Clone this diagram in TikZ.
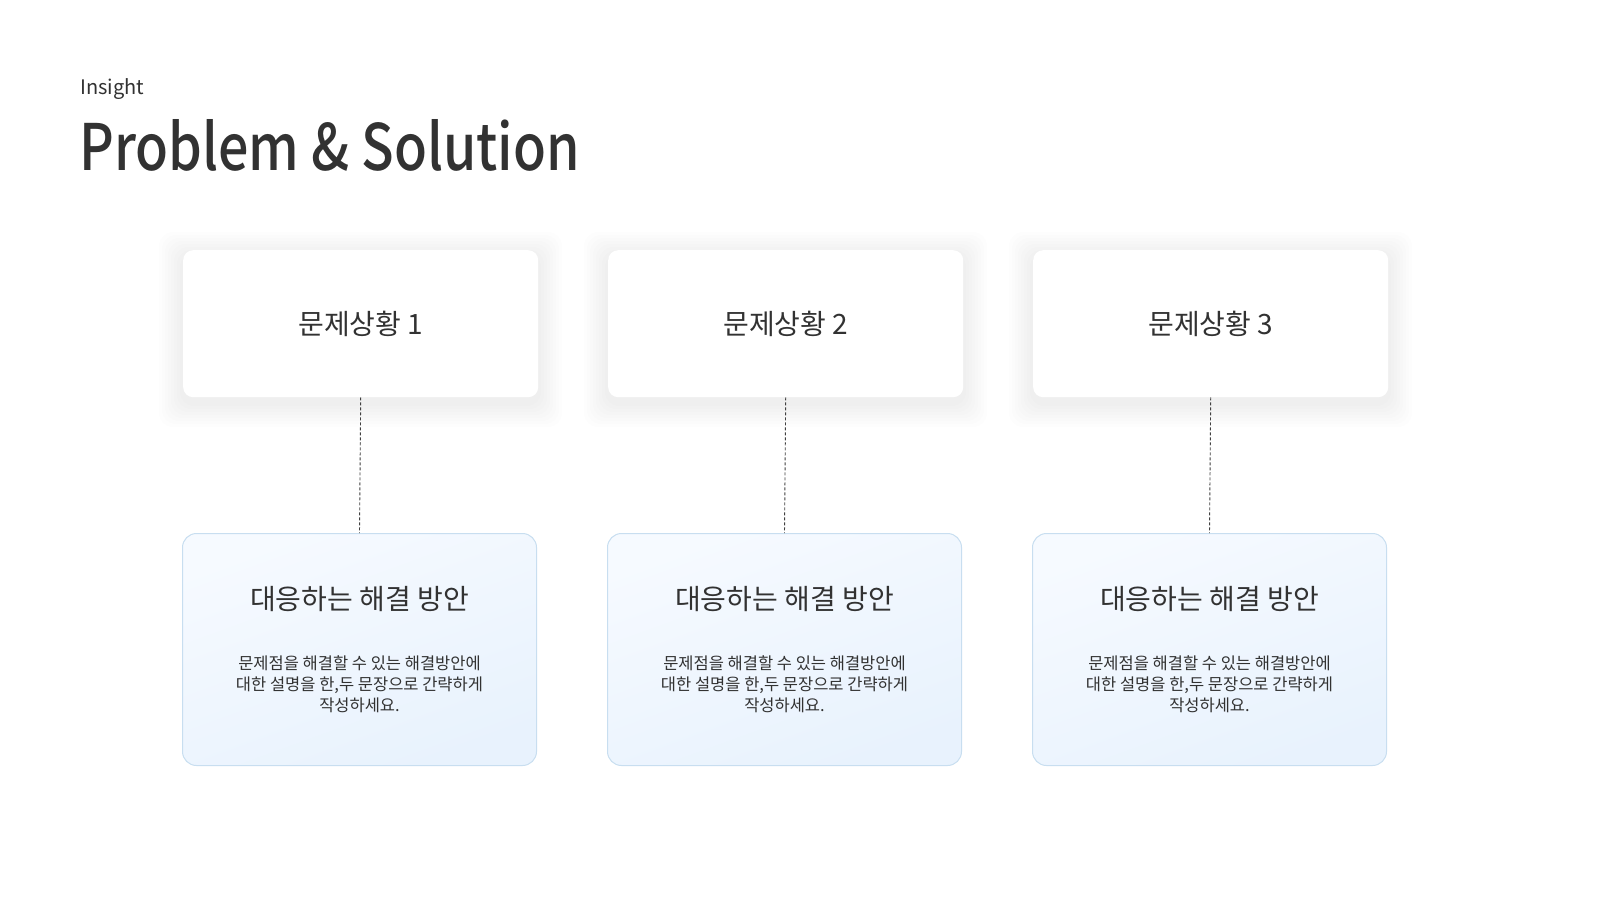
\documentclass[tikz,border=0pt]{standalone}
\usepackage{fontspec}
\setmainfont{Noto Sans CJK KR}
\newfontfamily\titlefont{Noto Sans CJK KR Medium}
\definecolor{bgtop}{RGB}{246,250,255}
\definecolor{bgbot}{RGB}{232,242,253}
\definecolor{bline}{RGB}{200,222,240}
\definecolor{txt}{RGB}{50,50,50}
\begin{document}
\begin{tikzpicture}[x=1pt,y=-1pt,
  top/.style={rounded corners=10pt,fill=white},
  bot/.style={rounded corners=14pt,draw=bline,line width=1pt,top color=bgtop,bottom color=bgbot,shading angle=20},
  conn/.style={densely dashed,line width=0.9pt,black!75}]
\useasboundingbox (0,0) rectangle (1600,900);
\fill[white] (0,0) rectangle (1600,900);
\node[anchor=base west,inner sep=0,font=\fontsize{20}{24}\selectfont,text=txt] (ins) at (80,94) {Insight};
\node[anchor=base west,inner sep=0,font=\titlefont\fontsize{64}{70}\selectfont,text=txt] (ttl) at (79,170) {\scalebox{0.84}[1]{Problem \& Solution}};
\foreach \x/\n in {183/1,608/2,1033/3}{
  \foreach \k in {1,...,8}{
    \fill[black,opacity=0.006,rounded corners=14pt] (\x-3*\k,250-3*\k+6) rectangle (\x+355+3*\k,397+3*\k+6);
  }
  \node[top,minimum width=355pt,minimum height=147pt,anchor=north west] (p\n) at (\x,250) {};
  \node[font=\fontsize{28}{32}\selectfont,text=txt] at (p\n.center) {문제상황 \n};
  \node[bot,minimum width=354pt,minimum height=232pt,anchor=north west] (s\n) at (\x-1,533) {};
  \draw[conn] (p\n.south) -- (s\n.north);
  \node[font=\fontsize{28}{32}\selectfont,text=txt] (h\n) at ([yshift=-66pt]s\n.north) {대응하는 해결 방안};
  \node[font=\fontsize{16.5}{21}\selectfont,text=txt,align=center] (d\n) at ([yshift=-151pt]s\n.north) {문제점을 해결할 수 있는 해결방안에\\대한 설명을 한,두 문장으로 간략하게\\작성하세요.};
}
\end{tikzpicture}
\end{document}
